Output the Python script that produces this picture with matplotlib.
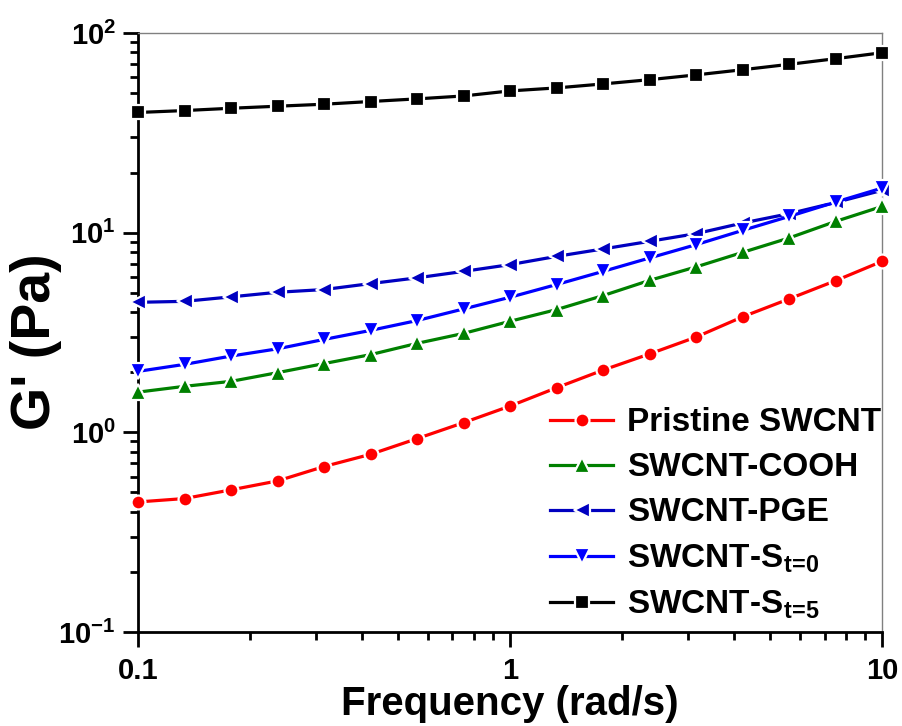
import numpy as np
import matplotlib.pyplot as plt

plt.rcParams['font.family'] = ['Liberation Sans', 'DejaVu Sans']
plt.rcParams['font.weight'] = 'bold'
plt.rcParams['mathtext.fontset'] = 'custom'
plt.rcParams['mathtext.rm'] = 'Liberation Sans:bold'
plt.rcParams['mathtext.bf'] = 'Liberation Sans:bold'
plt.rcParams['mathtext.it'] = 'Liberation Sans:bold'

# Частота (rad/s)
freq = [0.1, 0.1334, 0.1778, 0.2371, 0.3162, 0.4217, 0.5623, 0.7499,
        1.0, 1.334, 1.778, 2.371, 3.162, 4.217, 5.623, 7.499, 10.0]

# Модуль накопления G' (Pa)
g_pristine = [0.448, 0.466, 0.515, 0.571, 0.674, 0.776, 0.930, 1.118,
              1.354, 1.673, 2.05, 2.47, 3.00, 3.79, 4.66, 5.75, 7.19]
g_cooh = [1.59, 1.70, 1.80, 1.99, 2.21, 2.45, 2.79, 3.13,
          3.60, 4.12, 4.84, 5.77, 6.74, 7.97, 9.41, 11.39, 13.54]
g_pge = [4.48, 4.53, 4.77, 5.03, 5.19, 5.56, 5.94, 6.40,
         6.92, 7.61, 8.29, 9.05, 9.89, 11.18, 12.45, 14.17, 16.3]
g_st0 = [2.02, 2.19, 2.41, 2.62, 2.92, 3.24, 3.63, 4.15,
         4.75, 5.50, 6.40, 7.47, 8.71, 10.27, 12.06, 14.24, 16.73]
g_st5 = [40.0, 40.9, 42.0, 43.0, 44.0, 45.4, 46.8, 48.4,
         51.3, 53.1, 55.6, 58.4, 61.7, 65.5, 69.7, 74.4, 79.7]

labels = ['Pristine SWCNT', 'SWCNT-COOH', 'SWCNT-PGE',
          r'SWCNT-S$_{\mathbf{t\!=\!0}}$', r'SWCNT-S$_{\mathbf{t\!=\!5}}$']
colors = ['#FF0000', '#008000', '#0000C0', '#0000FF', '#000000']
markers = ['o', '^', '<', 'v', 's']
sizes = [10, 11, 11, 11, 9.5]

fig = plt.figure(figsize=(9.02, 7.26), dpi=100)
ax = fig.add_axes([0.153, 0.1295, 0.825, 0.825])

series = [g_pristine, g_cooh, g_pge, g_st0, g_st5]
for y, lab, c, m, ms in zip(series, labels, colors, markers, sizes):
    ax.plot(freq, y, color=c, marker=m, markersize=ms, linewidth=2.3,
            markeredgecolor='white', markeredgewidth=1.6, label=lab,
            clip_on=False, zorder=3)

ax.set_xscale('log')
ax.set_yscale('log')
ax.set_xlim(0.1, 10)
ax.set_ylim(0.1, 100)

ax.set_xticks([0.1, 1, 10])
ax.set_xticklabels(['0.1', '1', '10'])
ax.set_yticks([0.1, 1, 10, 100])
ax.set_yticklabels([r'$\mathbf{10^{-1}}$', r'$\mathbf{10^{0}}$',
                    r'$\mathbf{10^{1}}$', r'$\mathbf{10^{2}}$'])

ax.tick_params(which='major', direction='out', length=11, width=2,
               top=False, right=False)
ax.tick_params(which='minor', direction='out', length=6, width=2,
               top=False, right=False)
ax.tick_params(axis='x', which='major', labelsize=21, pad=7)
ax.tick_params(axis='y', which='major', labelsize=21, pad=5)
ax.yaxis.set_minor_formatter(plt.NullFormatter())
ax.xaxis.set_minor_formatter(plt.NullFormatter())

for s in ['left', 'bottom']:
    ax.spines[s].set_linewidth(2)
for s in ['top', 'right']:
    ax.spines[s].set_linewidth(1)
    ax.spines[s].set_color('#808080')

# подписи осей
fig.text(510 / 902, 1 - 715 / 726, 'Frequency (rad/s)', fontsize=29,
         fontweight='bold', ha='center', va='baseline')
fig.text(36 / 902, 1 - 342 / 726, "G' (Pa)", fontsize=40,
         fontweight='bold', ha='center', va='center', rotation=90)

ax.legend(loc='lower right', bbox_to_anchor=(1.025, -0.015), frameon=False,
          fontsize=24, handlelength=1.9, handletextpad=0.4,
          labelspacing=0.42, borderaxespad=0.2)

plt.savefig('out.png', dpi=100)
